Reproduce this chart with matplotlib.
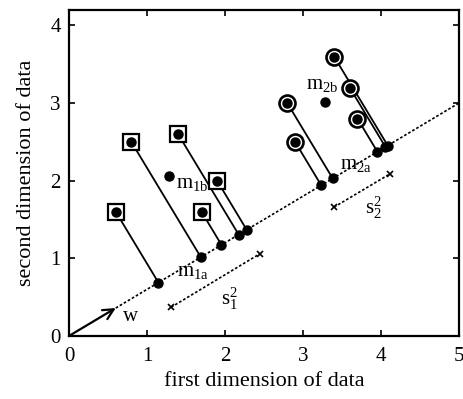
import matplotlib as mpl
mpl.use("Agg")

import matplotlib.pyplot as plt
import numpy as np

# points of the two classes
class1_x = [0.6, 0.8, 1.4, 1.7, 1.9]
class1_y = [1.6, 2.5, 2.6, 1.6, 2.0]
class2_x = [2.8, 2.9, 3.4, 3.6, 3.7]
class2_y = [3.0, 2.5, 3.6, 3.2, 2.8]

# projection direction w (arrow tip)
w_vec = [0.6, 0.36]
line_end_x = 5.0

# spread segments (end points marked with x)
s1_x = [1.31, 2.45]
s1_y = [0.37, 1.06]
s2_x = [3.40, 4.12]
s2_y = [1.66, 2.09]

mpl.rcParams.update(
    {
        "font.family": "Liberation Serif",
        "mathtext.fontset": "custom",
        "mathtext.rm": "Liberation Serif",
        "mathtext.it": "Liberation Serif:italic",
        "font.size": 15,
    }
)


def project(xs, ys, w):
    w = np.asarray(w, dtype=float)
    u = w / np.linalg.norm(w)
    pts = np.column_stack([xs, ys])
    t = pts @ u
    return t[:, None] * u[None, :]


fig = plt.figure(figsize=(4.63, 3.99), dpi=100)
ax = fig.add_axes([0.149, 0.158, 0.842, 0.817])

# projection line
slope = w_vec[1] / w_vec[0]
ax.plot([w_vec[0], line_end_x], [w_vec[1], slope * line_end_x],
        color="black", lw=1.2, linestyle=(0, (1.6, 1.2)), zorder=2)

# arrow w
ax.annotate("", xy=(w_vec[0], w_vec[1]), xytext=(0, 0),
            arrowprops=dict(arrowstyle="->,head_length=0.5,head_width=0.25",
                            lw=1.6, color="black", shrinkA=0, shrinkB=0))

for xs, ys, mk in [(class1_x, class1_y, "s"), (class2_x, class2_y, "o")]:
    proj = project(xs, ys, w_vec)
    for x, y, (px, py) in zip(xs, ys, proj):
        ax.plot([x, px], [y, py], color="black", lw=1.3, zorder=3)
    ax.plot(xs, ys, linestyle="none", marker=mk,
            markersize=12 if mk == "s" else 11.5,
            markerfacecolor="white", markeredgecolor="black",
            markeredgewidth=1.6 if mk == "s" else 1.9, zorder=4)
    ax.plot(xs, ys, linestyle="none", marker="o", markersize=6.5,
            color="black", zorder=5)
    ax.plot(proj[:, 0], proj[:, 1], linestyle="none", marker="o",
            markersize=6.5, color="black", zorder=5)
    # class means
    ax.plot([np.mean(xs)], [np.mean(ys)], linestyle="none", marker="o",
            markersize=6.5, color="black", zorder=5)

for sx, sy in [(s1_x, s1_y), (s2_x, s2_y)]:
    ax.plot(sx, sy, color="black", lw=1.2, linestyle=(0, (1.6, 1.2)),
            marker="x", markersize=4, markeredgewidth=1.2, zorder=3)

label_kw = dict(fontsize=15, ha="left", va="baseline", zorder=6)
ax.text(1.37, 1.90, r"$\mathrm{m}_{\mathrm{1b}}$", **label_kw)
ax.text(1.38, 0.77, r"$\mathrm{m}_{\mathrm{1a}}$", **label_kw)
ax.text(3.04, 3.18, r"$\mathrm{m}_{\mathrm{2b}}$", **label_kw)
ax.text(3.48, 2.15, r"$\mathrm{m}_{\mathrm{2a}}$", **label_kw)
ax.text(1.95, 0.40, r"$\mathrm{s}_1^2$", **label_kw)
ax.text(3.80, 1.58, r"$\mathrm{s}_2^2$", **label_kw)
ax.text(0.69, 0.19, "w", **label_kw)

ax.set_xlim(0, 5)
ax.set_ylim(0, 4.2)
ax.set_xticks([0, 1, 2, 3, 4, 5])
ax.set_yticks([0, 1, 2, 3, 4])
ax.tick_params(direction="in", top=True, right=True, length=4, width=1.2,
               labelsize=15)
ax.tick_params(axis="x", pad=8)
ax.tick_params(axis="y", pad=6)
for spine in ax.spines.values():
    spine.set_linewidth(1.6)

ax.set_xlabel("first dimension of data", fontsize=16, labelpad=4)
ax.set_ylabel("second dimension of data", fontsize=16, labelpad=10)

fig.savefig("out.png", dpi=100)
